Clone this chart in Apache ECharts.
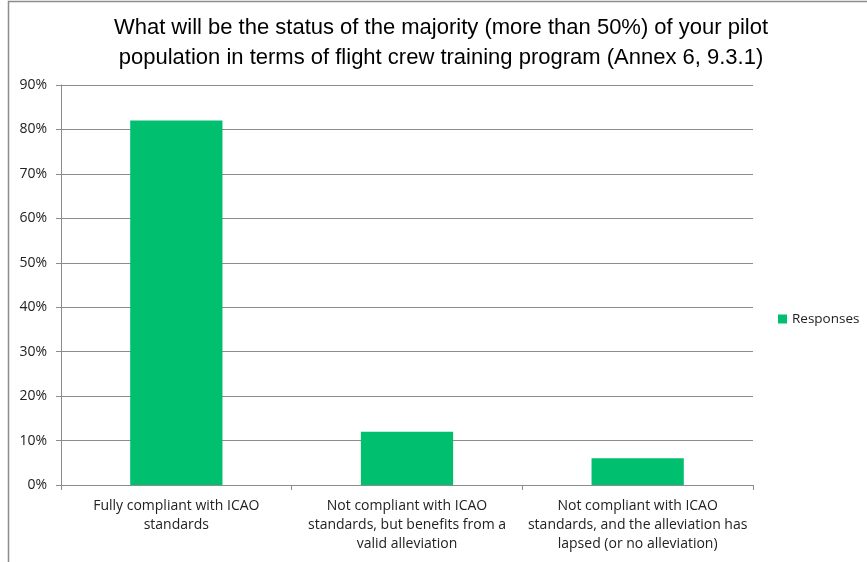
<!DOCTYPE html>
<html>
<head>
<meta charset="utf-8">
<script src="https://cdn.jsdelivr.net/npm/echarts@6/dist/echarts.min.js"></script>
<style>
html,body{margin:0;padding:0;background:#fff;}
#chart{width:867px;height:562px;}
</style>
</head>
<body>
<div id="chart"></div>
<script>
var titleText = 'What will be the status of the majority (more than 50%) of your pilot\npopulation in terms of flight crew training program (Annex 6, 9.3.1)';
var categories = [
  'Fully compliant with ICAO\nstandards',
  'Not compliant with ICAO\nstandards, but benefits from a\nvalid alleviation',
  'Not compliant with ICAO\nstandards, and the alleviation has\nlapsed (or no alleviation)'
];
var seriesName = 'Responses';
var values = [82, 12, 6];
var yMin = 0, yMax = 90, yStep = 10;

var chart = echarts.init(document.getElementById('chart'));
chart.setOption({
  animation: false,
  backgroundColor: '#fff',
  title: {
    text: titleText,
    left: 436,
    top: 8,
    textAlign: 'center',
    textStyle: {
      fontFamily: 'Liberation Sans, Arial, sans-serif',
      fontSize: 22,
      fontWeight: 'normal',
      color: '#000',
      lineHeight: 30
    }
  },
  graphic: [{
    type: 'rect',
    shape: {x: 8.5, y: 1.5, width: 900, height: 600},
    style: {fill: 'none', stroke: '#8c8c8c', lineWidth: 1.5},
    silent: true
  }],
  legend: {
    data: [seriesName],
    left: 773,
    top: 307,
    itemWidth: 9,
    itemHeight: 9,
    itemGap: 5,
    icon: 'rect',
    textStyle: {fontFamily: 'Open Sans, sans-serif', fontSize: 13.5, color: '#222'}
  },
  grid: {left: 61, right: 114, top: 85, bottom: 77, containLabel: false},
  xAxis: {
    type: 'category',
    data: categories,
    axisLine: {lineStyle: {color: '#8c8c8c', width: 1}},
    axisTick: {show: true, alignWithLabel: false, length: 5, lineStyle: {color: '#8c8c8c'}},
    axisLabel: {
      interval: 0,
      margin: 12,
      fontFamily: 'Open Sans, sans-serif',
      fontSize: 14,
      color: '#222',
      lineHeight: 19
    }
  },
  yAxis: {
    type: 'value',
    min: yMin,
    max: yMax,
    interval: yStep,
    axisLine: {show: true, lineStyle: {color: '#8c8c8c', width: 1}},
    axisTick: {show: true, length: 5, lineStyle: {color: '#8c8c8c'}},
    splitLine: {lineStyle: {color: '#8c8c8c', width: 1}},
    axisLabel: {
      formatter: '{value}%',
      margin: 14,
      fontFamily: 'Open Sans, sans-serif',
      fontSize: 14,
      color: '#222'
    }
  },
  series: [{
    name: seriesName,
    type: 'bar',
    data: values,
    barCategoryGap: '60%',
    itemStyle: {color: '#00BF6F'}
  }]
});
</script>
</body>
</html>
